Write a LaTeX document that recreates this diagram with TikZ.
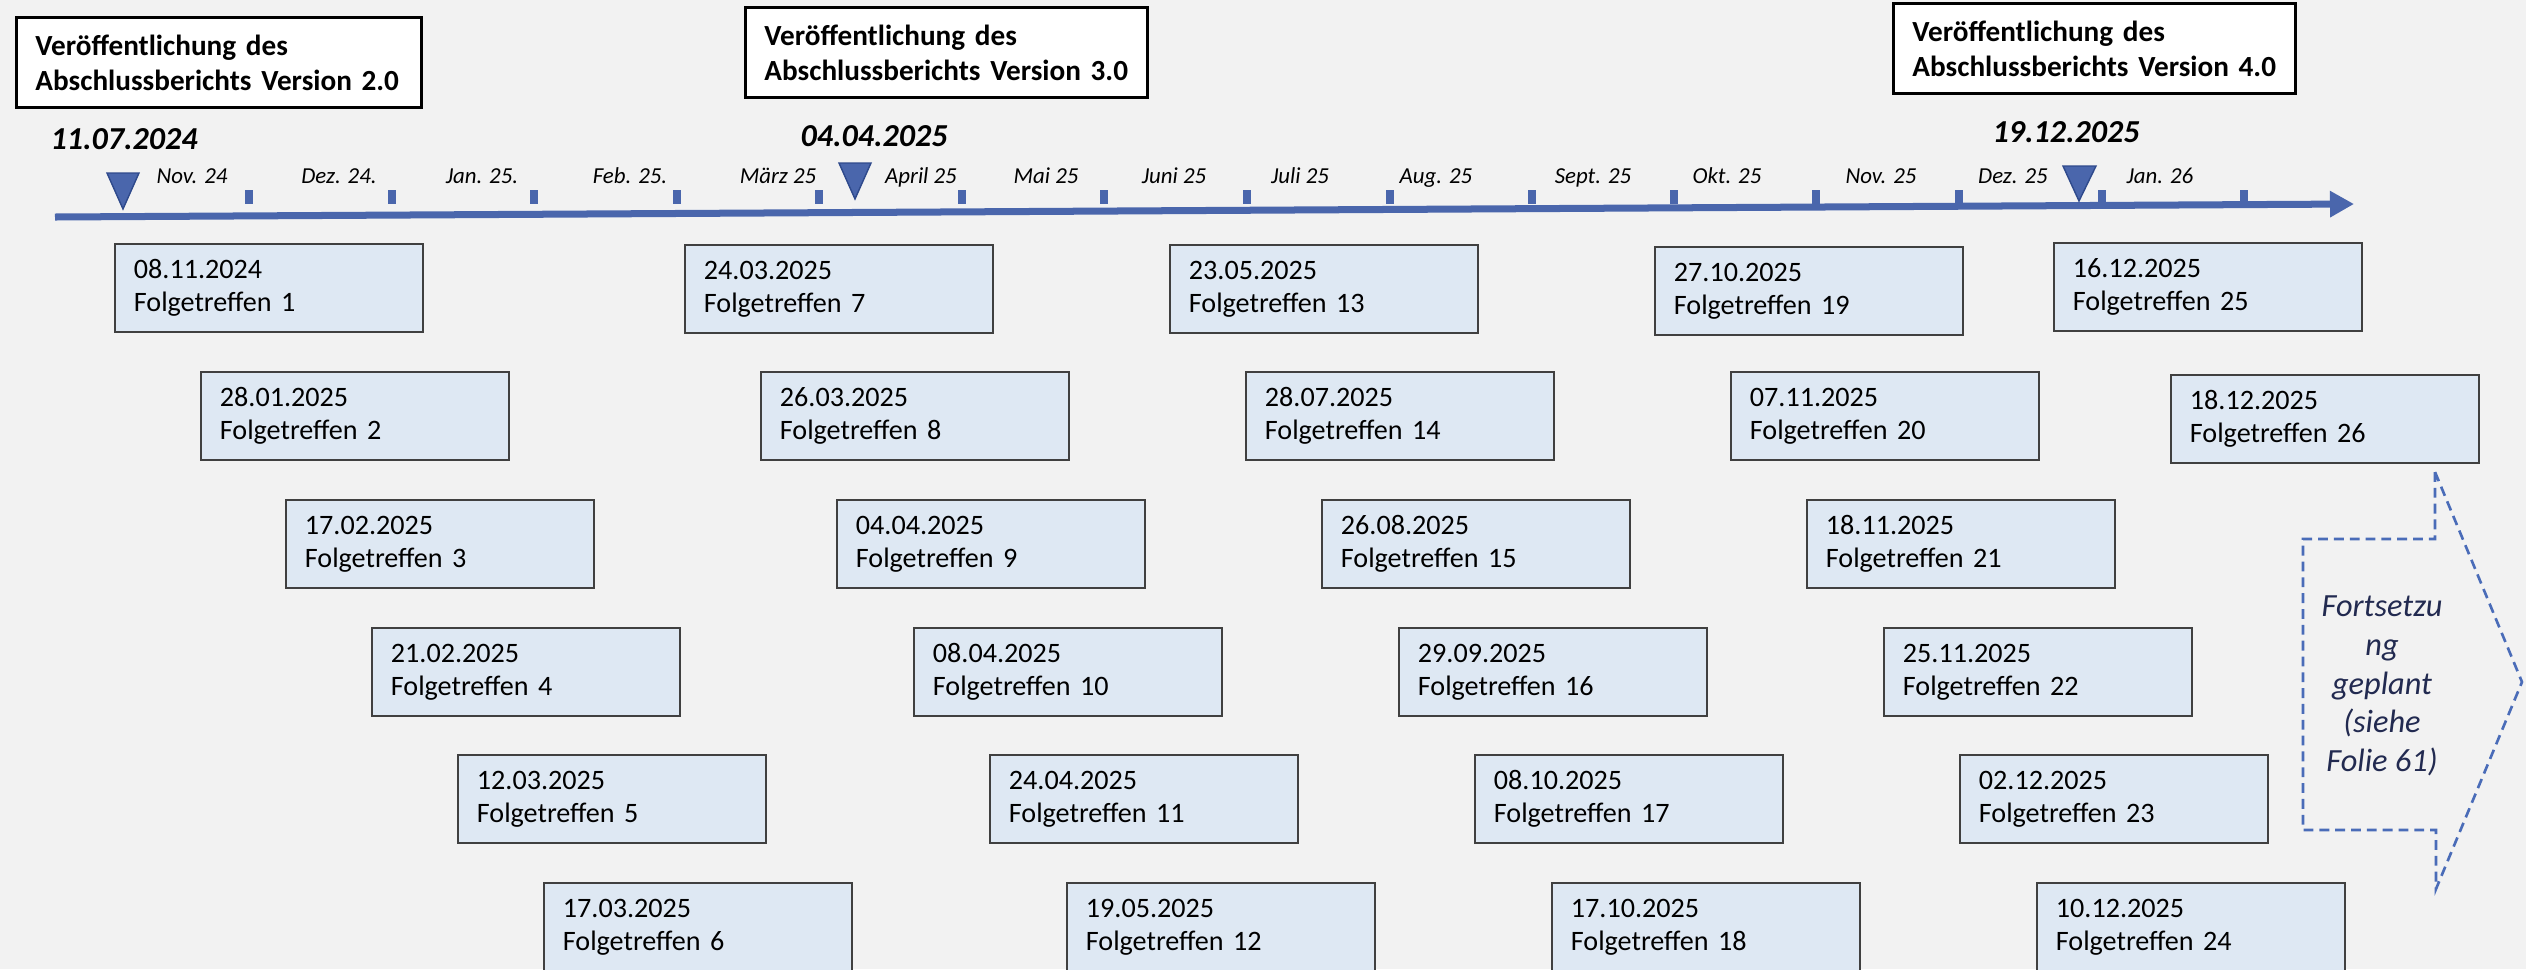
\documentclass[tikz,border=0pt]{standalone}
\usepackage{fontspec}
\setmainfont{Carlito}
\usetikzlibrary{arrows.meta}

\definecolor{bg}{HTML}{F2F2F2}
\definecolor{boxfill}{HTML}{DEE8F3}
\definecolor{boxline}{HTML}{404040}
\definecolor{tlblue}{HTML}{4A66AC}
\definecolor{tldark}{HTML}{2F4A8C}
\definecolor{dashblue}{HTML}{4A6CB8}
\definecolor{navy}{HTML}{222A50}

\tikzset{
  meeting/.style={draw=boxline, line width=0.5pt, fill=boxfill, anchor=north west,
    text width=2.7cm, inner xsep=0.19cm, inner ysep=0pt, minimum height=0.88cm,
    align=left, font=\fontsize{8}{9.4}\selectfont},
  release/.style={draw=black, line width=0.8pt, fill=white, anchor=north west,
    inner xsep=0.19cm, inner ysep=0pt, minimum height=0.9cm, align=left,
    font=\fontsize{8.3}{10}\selectfont\bfseries},
  month/.style={anchor=base, inner sep=0pt, font=\fontsize{6.5}{8}\selectfont\itshape},
  bigdate/.style={anchor=base west, inner sep=0pt, font=\fontsize{9.1}{11}\selectfont\bfseries\itshape},
  marker/.style={fill=tlblue, draw=tldark, line width=0.4pt},
}

\begin{document}
\begin{tikzpicture}[x=0.01cm, y=-0.01cm]
    \fill[bg] (0,0) rectangle (2526,969);
    \useasboundingbox (0,0) rectangle (2526,969);

    % releases
    \node[release, text width=3.67cm] (release2) at (15,16) {Veröffentlichung des\\Abschlussberichts Version 2.0};
    \node[release, text width=3.64cm] (release3) at (744,6) {Veröffentlichung des\\Abschlussberichts Version 3.0};
    \node[release, text width=3.64cm] (release4) at (1892,2) {Veröffentlichung des\\Abschlussberichts Version 4.0};

    \node[bigdate] (date2) at (50,149) {11.07.2024};
    \node[bigdate] (date3) at (800,146) {04.04.2025};
    \node[bigdate] (date4) at (1992,142) {19.12.2025};

    % timeline
    \coordinate (tlstart) at (55,217);
    \coordinate (tlend) at (2354,204);
    \draw[tlblue, line width=0.07cm, -{Triangle[length=0.24cm, width=0.25cm]}] (tlstart) -- (tlend);
    \foreach \x in {249,392,534,677,819,962,1104,1247,1390,1532,1674,1816,1959,2102,2244}
        \fill[tlblue] (\x-4,190) rectangle (\x+4,204);
    \foreach \x/\m in {192/Nov. 24, 339/Dez. 24., 482/Jan. 25., 630/Feb. 25., 778/März 25,
                       921/April 25, 1046/Mai 25, 1174/Juni 25, 1300/Juli 25, 1436/Aug. 25,
                       1593/Sept. 25, 1727/Okt. 25, 1881/Nov. 25, 2013/Dez. 25, 2160/Jan. 26}
        \node[month] at (\x,183) {\m};

    \filldraw[marker] (107,173) -- (139,173) -- (123,209) -- cycle;
    \filldraw[marker] (839,163) -- (871,163) -- (855,199) -- cycle;
    \filldraw[marker] (2063,166) -- (2096,166) -- (2079,201) -- cycle;

    % meetings
    \node[meeting] (ft1) at (114,243) {08.11.2024\\Folgetreffen 1};
    \node[meeting] (ft2) at (200,371) {28.01.2025\\Folgetreffen 2};
    \node[meeting] (ft3) at (285,499) {17.02.2025\\Folgetreffen 3};
    \node[meeting] (ft4) at (371,627) {21.02.2025\\Folgetreffen 4};
    \node[meeting] (ft5) at (457,754) {12.03.2025\\Folgetreffen 5};
    \node[meeting] (ft6) at (543,882) {17.03.2025\\Folgetreffen 6};

    \node[meeting] (ft7) at (684,244) {24.03.2025\\Folgetreffen 7};
    \node[meeting] (ft8) at (760,371) {26.03.2025\\Folgetreffen 8};
    \node[meeting] (ft9) at (836,499) {04.04.2025\\Folgetreffen 9};
    \node[meeting] (ft10) at (913,627) {08.04.2025\\Folgetreffen 10};
    \node[meeting] (ft11) at (989,754) {24.04.2025\\Folgetreffen 11};
    \node[meeting] (ft12) at (1066,882) {19.05.2025\\Folgetreffen 12};

    \node[meeting] (ft13) at (1169,244) {23.05.2025\\Folgetreffen 13};
    \node[meeting] (ft14) at (1245,371) {28.07.2025\\Folgetreffen 14};
    \node[meeting] (ft15) at (1321,499) {26.08.2025\\Folgetreffen 15};
    \node[meeting] (ft16) at (1398,627) {29.09.2025\\Folgetreffen 16};
    \node[meeting] (ft17) at (1474,754) {08.10.2025\\Folgetreffen 17};
    \node[meeting] (ft18) at (1551,882) {17.10.2025\\Folgetreffen 18};

    \node[meeting] (ft19) at (1654,246) {27.10.2025\\Folgetreffen 19};
    \node[meeting] (ft20) at (1730,371) {07.11.2025\\Folgetreffen 20};
    \node[meeting] (ft21) at (1806,499) {18.11.2025\\Folgetreffen 21};
    \node[meeting] (ft22) at (1883,627) {25.11.2025\\Folgetreffen 22};
    \node[meeting] (ft23) at (1959,754) {02.12.2025\\Folgetreffen 23};
    \node[meeting] (ft24) at (2036,882) {10.12.2025\\Folgetreffen 24};

    \node[meeting] (ft25) at (2053,242) {16.12.2025\\Folgetreffen 25};
    \node[meeting] (ft26) at (2170,374) {18.12.2025\\Folgetreffen 26};

    % continuation
    \draw[dashblue, line width=0.75pt, dash pattern=on 2.8pt off 1.7pt]
        (2435,472) -- (2435,539) -- (2303,539) -- (2303,830) -- (2436,830) -- (2436,889) -- (2522,682) -- cycle;
    \node[font=\fontsize{9.2}{11}\selectfont\itshape, text=navy, align=center] (fortsetzung) at (2382,686)
        {Fortsetzu\\ng\\geplant\\(siehe\\Folie 61)};
\end{tikzpicture}
\end{document}
